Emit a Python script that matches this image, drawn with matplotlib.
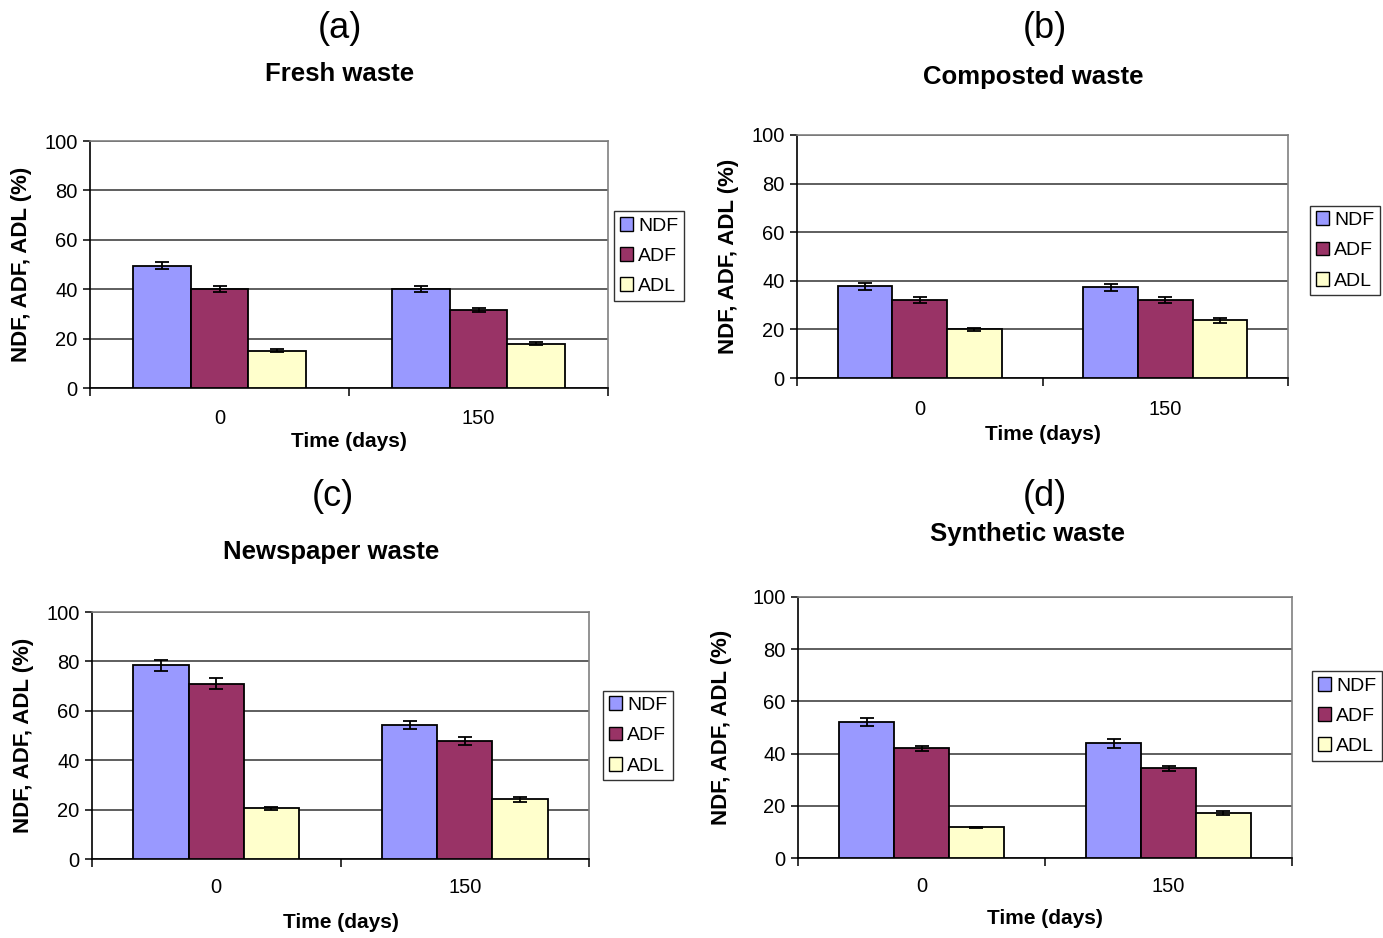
import matplotlib
matplotlib.use("Agg")
import matplotlib.pyplot as plt
import numpy as np

plt.rcParams["font.family"] = ["Liberation Sans", "DejaVu Sans"]

W, H = 1383, 938

days = ["0", "150"]
fractions = ["NDF", "ADF", "ADL"]
colors = ["#9999FF", "#993366", "#FFFFCC"]

# mean values and standard deviations, one row per fraction (NDF, ADF, ADL)
fresh = [[49.5, 40.0], [40.0, 31.4], [15.0, 18.0]]
fresh_err = [[1.5, 1.2], [1.2, 0.8], [0.6, 0.7]]
composted = [[37.8, 37.3], [32.0, 32.0], [20.0, 23.8]]
composted_err = [[1.4, 1.4], [1.2, 1.2], [0.5, 1.0]]
newspaper = [[78.4, 54.1], [71.0, 47.8], [20.5, 24.1]]
newspaper_err = [[2.2, 1.6], [2.2, 1.6], [0.7, 0.9]]
synthetic = [[52.1, 44.0], [42.0, 34.3], [11.7, 17.2]]
synthetic_err = [[1.7, 1.7], [1.0, 0.9], [0.3, 0.9]]

letters = ["(a)", "(b)", "(c)", "(d)"]
titles = ["Fresh waste", "Composted waste", "Newspaper waste", "Synthetic waste"]
values = [fresh, composted, newspaper, synthetic]
errors = [fresh_err, composted_err, newspaper_err, synthetic_err]

# layout in pixels: axes box (left, top, right, bottom), letter/title positions,
# y-label x, x-label y, legend box (left, top, right, bottom)
boxes = [(90, 141, 608, 388), (797, 135, 1288, 378),
         (92, 612, 589, 859), (798, 597, 1292, 858)]
letter_pos = [(340, 28), (1045, 28), (333, 497), (1045, 497)]
title_pos = [(340, 74), (1033, 77), (331, 552), (1028, 534)]
ylabel_x = [22, 728, 24, 722]
xlabel_y = [441, 434, 922, 918]
tick_pad = [15, 16, 14, 13.5]
legend_box = [(614, 210, 683, 302), (1310, 206, 1377, 295),
              (603, 690, 672, 781), (1312, 671, 1380, 761)]


def fx(px):
    return px / W


def fy(py):
    return 1 - py / H


fig = plt.figure(figsize=(W / 100, H / 100), dpi=100)

x = np.arange(len(days))
width = 0.667 / 3

for i in range(4):
    l, t, r, b = boxes[i]
    ax = fig.add_axes([fx(l), fy(b), fx(r) - fx(l), fy(t) - fy(b)])
    for j, name in enumerate(fractions):
        ax.bar(x + (j - 1) * width, values[i][j], width, color=colors[j],
               edgecolor="black", linewidth=1.3, label=name, zorder=3)
        ax.errorbar(x + (j - 1) * width, values[i][j], yerr=errors[i][j],
                    fmt="none", ecolor="black", elinewidth=1.3, capsize=5,
                    capthick=1.3, zorder=4)

    ax.set_xlim(-0.5, 1.5)
    ax.set_ylim(0, 100)
    ax.set_yticks(np.arange(0, 101, 20))
    ax.yaxis.grid(True, color="#333333", linewidth=1.1, zorder=0)
    ax.set_xticks([-0.5, 0.5, 1.5])
    ax.set_xticklabels([])
    ax.set_xticks(x, minor=True)
    ax.set_xticklabels(days, minor=True)
    ax.tick_params(axis="x", which="major", direction="out", length=6,
                   width=1.1, color="black")
    ax.tick_params(axis="x", which="minor", length=0, labelsize=14.5,
                   pad=tick_pad[i])
    ax.tick_params(axis="y", direction="out", length=5, width=1.1,
                   labelsize=14.5, pad=4)
    for side in ("left", "bottom"):
        ax.spines[side].set_color("black")
        ax.spines[side].set_linewidth(1.2)
    for side in ("top", "right"):
        ax.spines[side].set_color("#808080")
        ax.spines[side].set_linewidth(1.2)

    ax.set_ylabel("NDF, ADF, ADL (%)", fontsize=16, fontweight="bold")
    ax.yaxis.set_label_coords(fx(ylabel_x[i]), fy((t + b) / 2),
                              transform=fig.transFigure)
    ax.set_xlabel("Time (days)", fontsize=15, fontweight="bold")
    ax.xaxis.set_label_coords(fx((l + r) / 2), fy(xlabel_y[i]),
                              transform=fig.transFigure)
    ax.xaxis.label.set_verticalalignment("center")
    ax.yaxis.label.set_verticalalignment("center")

    fig.text(fx(letter_pos[i][0]), fy(letter_pos[i][1]), letters[i],
             fontsize=26, ha="center", va="center")
    fig.text(fx(title_pos[i][0]), fy(title_pos[i][1]), titles[i],
             fontsize=18.5, fontweight="bold", ha="center", va="center")

    ll, lt, lr, lb = legend_box[i]
    leg = ax.legend(loc="center left",
                    bbox_to_anchor=(fx(ll), fy((lt + lb) / 2)),
                    bbox_transform=fig.transFigure, fontsize=14,
                    frameon=True, fancybox=False, handlelength=0.7,
                    handleheight=0.7, handletextpad=0.25,
                    labelspacing=0.65, borderpad=0.3, borderaxespad=0)
    leg.get_frame().set_edgecolor("black")
    leg.get_frame().set_linewidth(1.0)
    for patch in leg.get_patches():
        patch.set_linewidth(1.0)

fig.savefig("out.png", dpi=100)
